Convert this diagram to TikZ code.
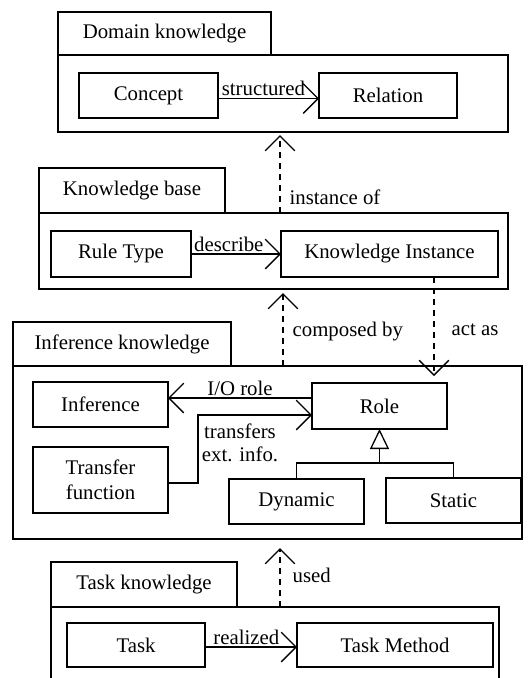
\documentclass[tikz,border=0pt]{standalone}
\usepackage{fontspec}
\setmainfont{Liberation Serif}
\usepackage{tikz}
\usetikzlibrary{calc}
\usetikzlibrary{arrows.meta}
\tikzstyle{boite}      =[draw, line width=1.3pt, inner sep=0pt, outer sep=0pt, align=center, font=\fontsize{20.8}{24.5}\selectfont]
\tikzstyle{etiquette}  =[inner sep=2pt, align=center, font=\fontsize{20.8}{23.5}\selectfont]
\tikzstyle{fleche}     =[line width=1.3pt, -{Straight Barb[angle=90:21pt,line width=1.3pt]}]
\tikzstyle{pointille}  =[fleche, dash pattern=on 6pt off 5pt]
\tikzstyle{heritage}   =[line width=1.3pt, -{Triangle[open,length=20pt,width=19pt,line width=1.3pt]}]

\begin{document}
\begin{tikzpicture}[x=1pt,y=-1pt]

\useasboundingbox (0,0) rectangle (529,678);

%%%%%%%%%%%%%%%%%%%%%%%%
%Paquet : domaine
%%%%%%%%%%%%%%%%%%%%%%%%
\node[boite, minimum width=213pt, minimum height=43pt] (domonglet) at (164.5,33.5) {Domain knowledge};
\node[boite, minimum width=450pt, minimum height=77pt] (domcorps) at (283,93.5) {};
\node[boite, minimum width=139pt, minimum height=45pt] (concept) at (148.5,95.5) {Concept};
\node[boite, minimum width=138pt, minimum height=45pt] (relation) at (388,95.5) {Relation};
\draw[fleche] ([yshift=-3pt]concept.east) -- ([yshift=-3pt]relation.west) node[etiquette, above, pos=0.45] {structured};

%%%%%%%%%%%%%%%%%%%%%%%%
%Paquet : base de connaissances
%%%%%%%%%%%%%%%%%%%%%%%%
\node[boite, minimum width=186pt, minimum height=45pt] (kbonglet) at (132,190.5) {Knowledge base};
\node[boite, minimum width=469pt, minimum height=76pt] (kbcorps) at (273.5,251) {};
\node[boite, minimum width=140pt, minimum height=46pt] (regle) at (121,254) {Rule Type};
\node[boite, minimum width=217pt, minimum height=46pt] (instance) at (389.5,254) {Knowledge Instance};
\draw[fleche] (regle.east) -- (instance.west) node[etiquette, above, pos=0.42] {describe};

%%%%%%%%%%%%%%%%%%%%%%%%
%Paquet : inférence
%%%%%%%%%%%%%%%%%%%%%%%%
\node[boite, minimum width=218pt, minimum height=44pt] (infonglet) at (122,344) {Inference knowledge};
\node[boite, minimum width=509pt, minimum height=173pt] (infcorps) at (267.5,452.5) {};
\node[boite, minimum width=135pt, minimum height=45pt] (inference) at (100.5,404.5) {Inference};
\node[boite, minimum width=135pt, minimum height=46pt] (role) at (379.5,406) {Role};
\node[boite, minimum width=135pt, minimum height=66pt] (transfert) at (100.5,480) {Transfer\\function};
\node[boite, minimum width=135pt, minimum height=45pt] (dynamique) at (296.5,501.5) {Dynamic};
\node[boite, minimum width=135pt, minimum height=45pt] (statique) at (453.5,500.5) {Static};

\draw[fleche] ([yshift=8pt]role.west) -- ([yshift=8pt]role.west -| inference.east) node[etiquette, above, midway] {I/O role};
\coordinate (coude) at (198,0); %abscisse du coude de la flèche
\draw[fleche] ([yshift=-3pt]transfert.east) -- ([yshift=-3pt]transfert.east -| coude) |- ([yshift=-9pt]role.west);
\node[etiquette] (transfo) at (240,443) {transfers\\ext. info.};

%généralisation
\draw[line width=1.3pt] (dynamique.north) -- ++(0,-16) coordinate (g) -| (statique.north);
\draw[heritage] (g -| role.south) -- (role.south);

%%%%%%%%%%%%%%%%%%%%%%%%
%Paquet : tâche
%%%%%%%%%%%%%%%%%%%%%%%%
\node[boite, minimum width=186pt, minimum height=45pt] (tacheonglet) at (144,584.5) {Task knowledge};
\node[boite, minimum width=448pt, minimum height=93pt] (tachecorps) at (275,653.5) {};
\node[boite, minimum width=138pt, minimum height=44pt] (tache) at (136,645) {Task};
\node[boite, minimum width=196pt, minimum height=44pt] (methode) at (395,645) {Task Method};
\draw[fleche] ([yshift=-2pt]tache.east) -- ([yshift=-2pt]methode.west) node[etiquette, above, pos=0.45] {realized};

%%%%%%%%%%%%%%%%%%%%%%%%
%Dépendances entre paquets
%%%%%%%%%%%%%%%%%%%%%%%%
\coordinate (axe) at (280,0);
\coordinate (axebis) at (283,0);
\coordinate (axeter) at (434,0);
\draw[pointille, shorten >=3pt] (kbcorps.north -| axe) -- (domcorps.south -| axe) node[etiquette, right=7pt, pos=0.2] {instance of};
\draw[pointille, shorten >=4pt] (infcorps.north -| axebis) -- (kbcorps.south -| axebis) node[etiquette, right=7pt, pos=0.45] {composed by};
\draw[pointille, shorten >=7pt] (instance.south -| axeter) -- (role.north -| axeter) node[etiquette, right=15pt, pos=0.5] {act as};
\draw[pointille, shorten >=9pt] (tachecorps.north -| axe) -- (infcorps.south -| axe) node[etiquette, right=10pt, pos=0.47] {used};

\end{tikzpicture}
\end{document}
